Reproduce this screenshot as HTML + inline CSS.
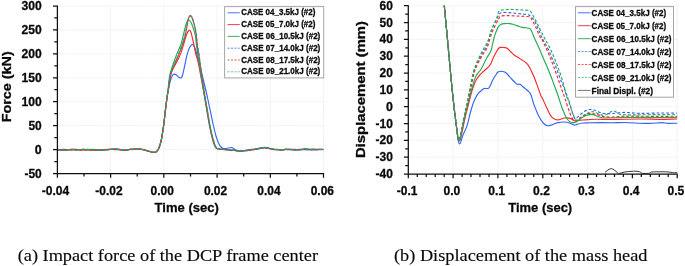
<!DOCTYPE html>
<html><head><meta charset="utf-8"><title>Figure</title>
<style>
html,body{margin:0;padding:0;background:#fff;}
svg{display:block;will-change:transform}
.b{font-family:"Liberation Sans",sans-serif;font-weight:bold;fill:#0a0a0a;stroke:#0a0a0a;stroke-width:0.3px;stroke-linejoin:round}
.s{font-family:"Liberation Serif",serif;fill:#0a0a0a;stroke:#0a0a0a;stroke-width:0.15px}
</style></head><body>
<svg width="685" height="266" viewBox="0 0 685 266">
<rect width="685" height="266" fill="#fff"/>

<path d="M163.8,5.95V173.5 M110.6,5.95V173.5 M217.1,5.95V173.5 M270.3,5.95V173.5 M323.5,5.95V173.5 M57.4,6.0H323.5 M57.4,29.9H323.5 M57.4,53.8H323.5 M57.4,77.8H323.5 M57.4,101.7H323.5 M57.4,125.6H323.5 M57.4,149.6H323.5" stroke="#e7e7e7" stroke-width="0.85" stroke-dasharray="1.3 1.2" fill="none"/>
<g id="left-curves">
<path d="M57.4,149.4 C58.5,149.5 61.7,150.0 64.0,150.1 C66.3,150.2 68.7,149.9 71.0,149.8 C73.3,149.8 75.7,149.7 78.0,149.7 C80.3,149.7 82.7,149.7 85.0,149.7 C87.3,149.7 89.5,149.7 92.0,149.8 C94.5,149.8 97.3,150.2 99.8,150.2 C102.3,150.2 104.6,150.0 107.0,149.8 C109.4,149.5 112.2,148.9 114.4,148.8 C116.6,148.8 118.3,149.0 120.0,149.3 C121.7,149.5 122.9,150.3 124.6,150.3 C126.3,150.3 128.1,149.6 130.0,149.4 C131.9,149.3 134.6,149.4 136.3,149.3 C138.0,149.2 138.8,148.8 140.0,148.9 C141.2,148.9 142.4,149.4 143.6,149.7 C144.8,150.0 145.8,150.3 147.0,150.7 C148.2,151.0 149.4,151.5 150.5,151.8 C151.6,152.1 152.7,152.4 153.6,152.4 C154.5,152.4 155.2,152.5 156.0,152.0 C156.8,151.5 157.5,150.7 158.2,149.5 C158.9,148.3 159.4,146.9 160.0,145.0 C160.6,143.1 161.1,141.3 161.7,138.0 C162.3,134.7 163.1,129.3 163.7,125.0 C164.3,120.7 164.7,116.2 165.2,112.0 C165.7,107.8 166.2,103.7 166.7,100.0 C167.2,96.3 167.7,93.2 168.3,90.0 C168.9,86.8 169.7,83.3 170.3,81.0 C170.9,78.7 171.4,77.3 172.0,76.2 C172.6,75.1 172.9,74.4 173.6,74.2 C174.3,74.0 175.2,74.3 176.0,74.8 C176.8,75.3 177.7,76.5 178.5,77.0 C179.3,77.5 180.3,78.3 181.0,78.0 C181.7,77.7 182.0,77.2 182.6,75.0 C183.2,72.8 184.1,68.5 184.8,65.1 C185.6,61.7 186.3,57.5 187.1,54.6 C187.9,51.7 188.7,49.2 189.6,47.5 C190.5,45.8 191.5,44.3 192.4,44.3 C193.3,44.3 194.1,45.8 194.8,47.5 C195.6,49.2 196.1,51.7 196.9,54.6 C197.7,57.5 198.5,61.2 199.5,65.1 C200.5,69.0 201.5,72.2 202.9,78.0 C204.3,83.8 206.3,92.2 208.0,100.0 C209.7,107.8 212.0,119.0 213.3,125.0 C214.6,131.0 215.1,133.0 216.0,136.0 C216.9,139.0 217.7,141.2 218.5,143.0 C219.3,144.8 220.1,146.1 221.0,147.0 C221.9,147.9 222.7,148.4 223.7,148.6 C224.7,148.8 225.7,148.5 227.0,148.3 C228.3,148.1 230.1,147.4 231.3,147.5 C232.5,147.6 233.2,148.4 234.0,148.8 C234.8,149.2 235.0,149.8 236.0,150.2 C237.0,150.6 238.1,151.2 239.8,151.2 C241.5,151.3 244.0,150.7 246.0,150.5 C248.0,150.2 250.0,150.1 252.0,149.8 C254.0,149.5 256.3,149.2 258.0,148.9 C259.7,148.5 260.8,148.0 262.0,147.7 C263.2,147.5 264.3,147.5 265.5,147.6 C266.7,147.7 267.6,148.0 269.0,148.3 C270.4,148.6 272.5,149.4 274.0,149.5 C275.5,149.7 276.7,149.3 278.0,149.4 C279.3,149.4 280.3,149.8 281.6,149.7 C282.9,149.7 284.6,149.3 286.0,149.3 C287.4,149.3 288.5,149.7 290.0,149.7 C291.5,149.8 293.3,149.9 295.0,149.9 C296.7,149.8 298.3,149.3 300.0,149.2 C301.7,149.2 303.3,149.6 305.0,149.7 C306.7,149.8 308.2,149.7 310.0,149.7 C311.8,149.7 313.8,149.7 316.0,149.6 C318.2,149.6 322.2,149.5 323.5,149.5" fill="none" stroke="#3366F5" stroke-width="1.15" stroke-linejoin="round"/>
<path d="M57.4,150.1 C58.5,150.1 61.7,150.4 64.0,150.2 C66.3,150.1 68.7,149.3 71.0,149.2 C73.3,149.1 75.7,149.4 78.0,149.5 C80.3,149.7 82.7,149.9 85.0,150.0 C87.3,150.1 89.5,150.0 92.0,150.0 C94.5,150.1 97.3,150.4 99.8,150.3 C102.3,150.1 104.6,149.5 107.0,149.3 C109.4,149.2 112.2,149.2 114.4,149.3 C116.6,149.4 118.3,149.7 120.0,149.8 C121.7,149.9 122.9,150.2 124.6,150.1 C126.3,150.0 128.1,149.4 130.0,149.2 C131.9,149.0 134.6,149.0 136.3,149.0 C138.0,149.0 138.8,149.1 140.0,149.2 C141.2,149.3 142.4,149.5 143.6,149.7 C144.8,149.9 145.8,150.3 147.0,150.7 C148.2,151.0 149.4,151.5 150.5,151.8 C151.6,152.1 152.7,152.4 153.6,152.4 C154.5,152.4 155.2,152.5 156.0,152.0 C156.8,151.5 157.5,150.7 158.2,149.5 C158.9,148.3 159.4,146.9 160.0,145.0 C160.6,143.1 161.1,141.3 161.7,138.0 C162.3,134.7 163.1,129.3 163.7,125.0 C164.3,120.7 164.7,116.2 165.2,112.0 C165.7,107.8 166.1,104.0 166.7,100.0 C167.2,96.0 167.9,92.2 168.5,88.0 C169.1,83.8 169.4,78.8 170.5,75.0 C171.6,71.2 173.4,68.5 175.0,65.1 C176.6,61.7 178.8,58.5 180.3,54.6 C181.9,50.8 183.2,45.4 184.3,42.0 C185.4,38.6 185.8,36.4 186.6,34.5 C187.4,32.6 188.3,30.7 189.0,30.4 C189.7,30.1 190.3,30.6 191.0,32.5 C191.7,34.4 192.5,38.5 193.3,42.0 C194.1,45.5 194.9,50.2 195.7,53.5 C196.5,56.8 197.3,58.4 198.1,62.0 C198.9,65.6 199.4,68.7 200.6,75.0 C201.8,81.3 203.8,91.6 205.3,100.0 C206.8,108.4 208.5,119.0 209.7,125.3 C210.9,131.6 211.7,134.8 212.5,138.0 C213.3,141.2 213.9,143.0 214.5,144.6 C215.1,146.2 215.5,146.9 216.0,147.6 C216.5,148.3 216.7,148.4 217.5,148.7 C218.3,149.0 219.6,149.0 221.0,149.2 C222.4,149.3 224.2,149.4 226.0,149.6 C227.8,149.8 230.3,150.0 232.0,150.2 C233.7,150.4 234.7,150.5 236.0,150.6 C237.3,150.8 238.1,151.1 239.8,151.0 C241.5,151.0 244.0,150.5 246.0,150.2 C248.0,149.9 250.0,149.7 252.0,149.4 C254.0,149.2 256.3,149.0 258.0,148.7 C259.7,148.4 260.8,148.0 262.0,147.8 C263.2,147.7 264.3,147.8 265.5,147.8 C266.7,147.9 267.6,148.1 269.0,148.4 C270.4,148.6 272.5,149.1 274.0,149.4 C275.5,149.6 276.7,149.6 278.0,149.7 C279.3,149.9 280.3,150.1 281.6,150.0 C282.9,150.0 284.6,149.4 286.0,149.3 C287.4,149.2 288.5,149.4 290.0,149.5 C291.5,149.5 293.3,149.4 295.0,149.4 C296.7,149.5 298.3,150.0 300.0,149.9 C301.7,149.8 303.3,149.0 305.0,148.9 C306.7,148.9 308.2,149.5 310.0,149.6 C311.8,149.6 313.8,149.2 316.0,149.2 C318.2,149.2 322.2,149.5 323.5,149.5" fill="none" stroke="#F52A2A" stroke-width="1.15" stroke-linejoin="round"/>
<path d="M57.4,149.5 C58.5,149.5 61.7,149.8 64.0,149.8 C66.3,149.8 68.7,149.5 71.0,149.5 C73.3,149.5 75.7,149.9 78.0,150.0 C80.3,150.0 82.7,149.9 85.0,149.8 C87.3,149.7 89.5,149.4 92.0,149.4 C94.5,149.4 97.3,149.6 99.8,149.7 C102.3,149.7 104.6,149.9 107.0,149.8 C109.4,149.7 112.2,149.0 114.4,149.0 C116.6,148.9 118.3,149.2 120.0,149.5 C121.7,149.7 122.9,150.4 124.6,150.4 C126.3,150.4 128.1,149.6 130.0,149.5 C131.9,149.3 134.6,149.4 136.3,149.4 C138.0,149.4 138.8,149.2 140.0,149.3 C141.2,149.3 142.4,149.5 143.6,149.7 C144.8,149.9 145.8,150.3 147.0,150.7 C148.2,151.0 149.4,151.5 150.5,151.8 C151.6,152.1 152.7,152.4 153.6,152.4 C154.5,152.4 155.2,152.5 156.0,152.0 C156.8,151.5 157.5,150.7 158.2,149.5 C158.9,148.3 159.4,146.9 160.0,145.0 C160.6,143.1 161.1,141.3 161.7,138.0 C162.3,134.7 163.1,129.3 163.7,125.0 C164.3,120.7 164.7,116.2 165.2,112.0 C165.7,107.8 166.2,104.0 166.7,100.0 C167.2,96.0 167.7,92.2 168.2,88.0 C168.7,83.8 169.0,78.8 169.8,75.0 C170.6,71.2 171.7,68.5 172.8,65.1 C173.9,61.7 175.2,58.1 176.6,54.6 C178.0,51.1 180.0,47.3 181.1,44.0 C182.2,40.7 182.5,38.2 183.3,35.0 C184.1,31.8 185.2,27.0 186.0,24.5 C186.8,22.0 187.5,20.1 188.3,19.8 C189.1,19.5 190.2,21.2 191.0,22.5 C191.8,23.8 192.3,25.4 193.0,27.5 C193.7,29.6 194.6,32.1 195.2,35.0 C195.8,37.9 196.1,41.7 196.5,45.0 C196.9,48.3 197.1,49.6 197.8,54.6 C198.6,59.6 199.8,67.4 201.0,75.0 C202.2,82.6 203.6,91.6 205.0,100.0 C206.4,108.4 208.2,119.0 209.4,125.3 C210.6,131.6 211.4,134.8 212.2,138.0 C213.0,141.2 213.6,143.0 214.2,144.6 C214.8,146.2 215.2,146.9 215.7,147.6 C216.2,148.3 216.4,148.4 217.2,148.7 C218.0,149.0 219.3,149.0 220.7,149.2 C222.1,149.3 223.8,149.5 225.7,149.6 C227.6,149.7 230.3,149.8 232.0,150.0 C233.7,150.2 234.7,150.5 236.0,150.6 C237.3,150.8 238.1,151.0 239.8,151.0 C241.5,151.1 244.0,151.0 246.0,150.8 C248.0,150.5 250.0,149.9 252.0,149.5 C254.0,149.2 256.3,148.9 258.0,148.6 C259.7,148.3 260.8,147.9 262.0,147.7 C263.2,147.5 264.3,147.3 265.5,147.4 C266.7,147.5 267.6,148.1 269.0,148.4 C270.4,148.7 272.5,148.8 274.0,149.0 C275.5,149.2 276.7,149.6 278.0,149.7 C279.3,149.8 280.3,149.7 281.6,149.7 C282.9,149.6 284.6,149.5 286.0,149.4 C287.4,149.4 288.5,149.4 290.0,149.4 C291.5,149.5 293.3,149.9 295.0,150.0 C296.7,150.0 298.3,149.9 300.0,149.7 C301.7,149.5 303.3,149.0 305.0,148.9 C306.7,148.8 308.2,149.1 310.0,149.1 C311.8,149.2 313.8,149.1 316.0,149.2 C318.2,149.3 322.2,149.6 323.5,149.7" fill="none" stroke="#22AA55" stroke-width="1.15" stroke-linejoin="round"/>
<path d="M57.4,149.5 C58.5,149.5 61.7,149.4 64.0,149.4 C66.3,149.5 68.7,149.5 71.0,149.5 C73.3,149.5 75.7,149.6 78.0,149.6 C80.3,149.6 82.7,149.3 85.0,149.3 C87.3,149.3 89.5,149.5 92.0,149.7 C94.5,149.9 97.3,150.5 99.8,150.5 C102.3,150.5 104.6,149.9 107.0,149.8 C109.4,149.6 112.2,149.5 114.4,149.4 C116.6,149.4 118.3,149.4 120.0,149.4 C121.7,149.5 122.9,150.1 124.6,150.0 C126.3,150.0 128.1,149.5 130.0,149.3 C131.9,149.1 134.6,148.9 136.3,148.8 C138.0,148.7 138.8,148.8 140.0,148.9 C141.2,149.1 142.4,149.4 143.6,149.7 C144.8,150.0 145.8,150.3 147.0,150.7 C148.2,151.0 149.4,151.5 150.5,151.8 C151.6,152.1 152.7,152.4 153.6,152.4 C154.5,152.4 155.2,152.5 156.0,152.0 C156.8,151.5 157.5,150.7 158.2,149.5 C158.9,148.3 159.4,146.9 160.0,145.0 C160.6,143.1 161.1,141.3 161.7,138.0 C162.3,134.7 163.1,129.3 163.7,125.0 C164.3,120.7 164.7,116.2 165.2,112.0 C165.7,107.8 166.1,104.0 166.7,100.0 C167.3,96.0 167.9,92.2 168.6,88.0 C169.2,83.8 169.7,78.8 170.6,75.0 C171.5,71.2 172.8,68.5 174.2,65.1 C175.5,61.7 177.3,58.1 178.7,54.6 C180.1,51.1 181.5,47.3 182.6,44.0 C183.7,40.7 184.5,38.5 185.3,35.0 C186.1,31.5 187.1,25.8 187.6,23.0 C188.1,20.2 188.3,19.3 188.6,18.2 C188.9,17.1 189.2,16.6 189.5,16.2 C189.8,15.8 190.1,15.7 190.4,15.7 C190.7,15.7 191.0,15.8 191.4,16.3 C191.8,16.9 192.1,17.6 192.6,19.0 C193.1,20.4 193.6,22.2 194.2,24.6 C194.8,27.0 195.5,30.2 196.0,33.6 C196.5,37.0 196.7,41.5 197.2,45.0 C197.7,48.5 198.1,49.6 198.8,54.6 C199.5,59.6 200.5,67.4 201.6,75.0 C202.7,82.6 204.0,91.6 205.4,100.0 C206.8,108.4 208.6,119.0 209.8,125.3 C211.0,131.6 211.8,134.8 212.6,138.0 C213.4,141.2 214.0,143.0 214.6,144.6 C215.2,146.2 215.6,146.9 216.1,147.6 C216.6,148.3 216.8,148.4 217.6,148.7 C218.4,149.0 219.7,149.0 221.1,149.2 C222.5,149.3 224.3,149.5 226.1,149.6 C227.9,149.7 230.3,149.7 232.0,149.9 C233.7,150.1 234.7,150.5 236.0,150.7 C237.3,150.9 238.1,151.0 239.8,151.0 C241.5,151.1 244.0,151.1 246.0,150.9 C248.0,150.6 250.0,150.0 252.0,149.6 C254.0,149.2 256.3,148.8 258.0,148.6 C259.7,148.4 260.8,148.3 262.0,148.2 C263.2,148.0 264.3,147.8 265.5,147.7 C266.7,147.7 267.6,147.8 269.0,148.0 C270.4,148.3 272.5,149.2 274.0,149.4 C275.5,149.7 276.7,149.5 278.0,149.6 C279.3,149.7 280.3,150.2 281.6,150.1 C282.9,150.1 284.6,149.4 286.0,149.3 C287.4,149.2 288.5,149.2 290.0,149.3 C291.5,149.4 293.3,150.0 295.0,150.0 C296.7,150.1 298.3,149.6 300.0,149.5 C301.7,149.3 303.3,149.1 305.0,149.1 C306.7,149.1 308.2,149.5 310.0,149.5 C311.8,149.6 313.8,149.7 316.0,149.6 C318.2,149.5 322.2,149.2 323.5,149.1" fill="none" stroke="#3366F5" stroke-width="1.15" stroke-linejoin="round" stroke-dasharray="2.9 2"/>
<path d="M57.4,149.8 C58.5,149.8 61.7,150.0 64.0,150.0 C66.3,150.0 68.7,149.8 71.0,149.9 C73.3,149.9 75.7,150.3 78.0,150.3 C80.3,150.3 82.7,149.9 85.0,149.9 C87.3,149.9 89.5,150.2 92.0,150.2 C94.5,150.1 97.3,149.8 99.8,149.7 C102.3,149.6 104.6,149.5 107.0,149.5 C109.4,149.5 112.2,149.5 114.4,149.6 C116.6,149.7 118.3,149.7 120.0,149.8 C121.7,150.0 122.9,150.5 124.6,150.4 C126.3,150.2 128.1,149.4 130.0,149.2 C131.9,148.9 134.6,149.1 136.3,149.1 C138.0,149.1 138.8,149.0 140.0,149.1 C141.2,149.2 142.4,149.4 143.6,149.7 C144.8,150.0 145.8,150.3 147.0,150.7 C148.2,151.0 149.4,151.5 150.5,151.8 C151.6,152.1 152.7,152.4 153.6,152.4 C154.5,152.4 155.2,152.5 156.0,152.0 C156.8,151.5 157.5,150.7 158.2,149.5 C158.9,148.3 159.4,146.9 160.0,145.0 C160.6,143.1 161.1,141.3 161.7,138.0 C162.3,134.7 163.1,129.3 163.7,125.0 C164.3,120.7 164.7,116.2 165.2,112.0 C165.7,107.8 166.1,104.0 166.7,100.0 C167.3,96.0 167.9,92.2 168.6,88.0 C169.2,83.8 169.7,78.8 170.6,75.0 C171.5,71.2 172.8,68.5 174.2,65.1 C175.5,61.7 177.3,58.1 178.7,54.6 C180.1,51.1 181.5,47.3 182.6,44.0 C183.7,40.7 184.5,38.5 185.3,35.0 C186.1,31.5 187.1,25.8 187.6,23.0 C188.1,20.2 188.3,19.3 188.6,18.2 C188.9,17.1 189.2,16.6 189.5,16.2 C189.8,15.8 190.1,15.7 190.4,15.7 C190.7,15.7 191.0,15.8 191.4,16.3 C191.8,16.9 192.1,17.6 192.6,19.0 C193.1,20.4 193.6,22.2 194.2,24.6 C194.8,27.0 195.5,30.2 196.0,33.6 C196.5,37.0 196.7,41.5 197.2,45.0 C197.7,48.5 198.1,49.6 198.8,54.6 C199.5,59.6 200.5,67.4 201.6,75.0 C202.7,82.6 204.0,91.6 205.4,100.0 C206.8,108.4 208.6,119.0 209.8,125.3 C211.0,131.6 211.8,134.8 212.6,138.0 C213.4,141.2 214.0,143.0 214.6,144.6 C215.2,146.2 215.6,146.9 216.1,147.6 C216.6,148.3 216.8,148.4 217.6,148.7 C218.4,149.0 219.7,149.0 221.1,149.2 C222.5,149.3 224.3,149.4 226.1,149.6 C227.9,149.8 230.3,150.5 232.0,150.6 C233.7,150.7 234.7,150.0 236.0,150.1 C237.3,150.2 238.1,151.1 239.8,151.1 C241.5,151.1 244.0,150.4 246.0,150.2 C248.0,150.1 250.0,150.5 252.0,150.2 C254.0,149.9 256.3,148.7 258.0,148.4 C259.7,148.1 260.8,148.4 262.0,148.3 C263.2,148.2 264.3,147.7 265.5,147.7 C266.7,147.8 267.6,148.2 269.0,148.5 C270.4,148.8 272.5,149.5 274.0,149.7 C275.5,149.9 276.7,149.5 278.0,149.5 C279.3,149.5 280.3,149.7 281.6,149.8 C282.9,149.8 284.6,149.8 286.0,149.8 C287.4,149.7 288.5,149.4 290.0,149.3 C291.5,149.3 293.3,149.5 295.0,149.5 C296.7,149.5 298.3,149.4 300.0,149.4 C301.7,149.4 303.3,149.6 305.0,149.6 C306.7,149.6 308.2,149.6 310.0,149.6 C311.8,149.6 313.8,149.8 316.0,149.7 C318.2,149.7 322.2,149.3 323.5,149.2" fill="none" stroke="#F52A2A" stroke-width="1.15" stroke-linejoin="round" stroke-dasharray="2.9 2" stroke-dashoffset="2.4"/>
<path d="M57.4,150.0 C58.5,150.0 61.7,150.2 64.0,150.1 C66.3,150.0 68.7,149.7 71.0,149.6 C73.3,149.5 75.7,149.7 78.0,149.7 C80.3,149.6 82.7,149.2 85.0,149.3 C87.3,149.3 89.5,149.8 92.0,149.9 C94.5,150.1 97.3,150.1 99.8,150.1 C102.3,150.0 104.6,149.9 107.0,149.7 C109.4,149.6 112.2,149.1 114.4,149.1 C116.6,149.1 118.3,149.8 120.0,149.9 C121.7,150.1 122.9,149.8 124.6,149.8 C126.3,149.8 128.1,149.9 130.0,149.8 C131.9,149.7 134.6,149.4 136.3,149.3 C138.0,149.2 138.8,149.2 140.0,149.2 C141.2,149.3 142.4,149.5 143.6,149.7 C144.8,149.9 145.8,150.3 147.0,150.7 C148.2,151.0 149.4,151.5 150.5,151.8 C151.6,152.1 152.7,152.4 153.6,152.4 C154.5,152.4 155.2,152.5 156.0,152.0 C156.8,151.5 157.5,150.7 158.2,149.5 C158.9,148.3 159.4,146.9 160.0,145.0 C160.6,143.1 161.1,141.3 161.7,138.0 C162.3,134.7 163.1,129.3 163.7,125.0 C164.3,120.7 164.7,116.2 165.2,112.0 C165.7,107.8 166.1,104.0 166.7,100.0 C167.2,96.0 167.9,92.2 168.5,88.0 C169.1,83.8 169.5,78.8 170.4,75.0 C171.3,71.2 172.6,68.5 173.9,65.1 C175.2,61.7 177.0,58.1 178.4,54.6 C179.8,51.1 181.2,47.3 182.3,44.0 C183.4,40.7 184.2,38.4 185.0,35.0 C185.8,31.6 186.7,26.2 187.3,23.5 C187.9,20.8 188.1,19.8 188.4,18.6 C188.8,17.5 189.1,17.0 189.4,16.6 C189.7,16.2 190.0,16.1 190.3,16.1 C190.6,16.1 191.0,16.1 191.4,16.7 C191.8,17.3 192.3,18.1 192.8,19.5 C193.3,20.9 193.9,22.6 194.5,25.0 C195.1,27.4 195.8,30.3 196.3,33.6 C196.8,36.9 197.0,41.5 197.5,45.0 C198.0,48.5 198.4,49.6 199.1,54.6 C199.8,59.6 200.8,67.4 201.9,75.0 C203.0,82.6 204.3,91.6 205.7,100.0 C207.1,108.4 208.9,119.0 210.1,125.3 C211.3,131.6 212.1,134.8 212.9,138.0 C213.7,141.2 214.3,143.0 214.9,144.6 C215.5,146.2 215.9,146.9 216.4,147.6 C216.9,148.3 217.1,148.4 217.9,148.7 C218.7,149.0 220.0,149.0 221.4,149.2 C222.8,149.3 224.6,149.5 226.4,149.6 C228.2,149.7 230.4,149.9 232.0,150.1 C233.6,150.2 234.7,150.4 236.0,150.5 C237.3,150.6 238.1,150.8 239.8,150.8 C241.5,150.8 244.0,150.6 246.0,150.5 C248.0,150.3 250.0,150.0 252.0,149.7 C254.0,149.5 256.3,149.2 258.0,148.9 C259.7,148.6 260.8,148.0 262.0,147.8 C263.2,147.6 264.3,147.7 265.5,147.7 C266.7,147.7 267.6,147.6 269.0,147.8 C270.4,148.0 272.5,148.8 274.0,149.1 C275.5,149.4 276.7,149.5 278.0,149.6 C279.3,149.6 280.3,149.6 281.6,149.6 C282.9,149.7 284.6,149.8 286.0,149.8 C287.4,149.8 288.5,149.3 290.0,149.3 C291.5,149.4 293.3,149.8 295.0,149.9 C296.7,150.0 298.3,150.1 300.0,150.0 C301.7,149.8 303.3,149.2 305.0,149.1 C306.7,149.0 308.2,149.5 310.0,149.6 C311.8,149.7 313.8,149.8 316.0,149.7 C318.2,149.7 322.2,149.6 323.5,149.5" fill="none" stroke="#22AA55" stroke-width="1.15" stroke-linejoin="round" stroke-dasharray="2.9 2"/>
</g>
<path d="M57.4,5.45V173.5H324.1 M57.4,173.5v4.3 M110.6,173.5v4.3 M163.8,173.5v4.3 M217.1,173.5v4.3 M270.3,173.5v4.3 M323.5,173.5v4.3 M84.0,173.5v3.1 M137.2,173.5v3.1 M190.5,173.5v3.1 M243.7,173.5v3.1 M296.9,173.5v3.1 M57.4,6.0h-4.4 M57.4,29.9h-4.4 M57.4,53.8h-4.4 M57.4,77.8h-4.4 M57.4,101.7h-4.4 M57.4,125.6h-4.4 M57.4,149.6h-4.4 M57.4,173.5h-4.4 M57.4,17.9h-3.1 M57.4,41.9h-3.1 M57.4,65.8h-3.1 M57.4,89.7h-3.1 M57.4,113.7h-3.1 M57.4,137.6h-3.1 M57.4,161.5h-3.1" stroke="#111" stroke-width="1.25" fill="none"/>
<text class="b" x="21.5" y="9.9" font-size="12.7" textLength="20.2" lengthAdjust="spacingAndGlyphs">300</text>
<text class="b" x="21.5" y="33.9" font-size="12.7" textLength="20.2" lengthAdjust="spacingAndGlyphs">250</text>
<text class="b" x="21.5" y="57.8" font-size="12.7" textLength="20.2" lengthAdjust="spacingAndGlyphs">200</text>
<text class="b" x="21.5" y="81.8" font-size="12.7" textLength="20.2" lengthAdjust="spacingAndGlyphs">150</text>
<text class="b" x="21.5" y="105.7" font-size="12.7" textLength="20.2" lengthAdjust="spacingAndGlyphs">100</text>
<text class="b" x="28.4" y="129.6" font-size="12.7" textLength="13.3" lengthAdjust="spacingAndGlyphs">50</text>
<text class="b" x="34.8" y="153.6" font-size="12.7" textLength="6.9" lengthAdjust="spacingAndGlyphs">0</text>
<text class="b" x="24.4" y="177.5" font-size="12.7" textLength="17.3" lengthAdjust="spacingAndGlyphs">-50</text>
<text class="b" x="41.8" y="194.9" font-size="12.7" textLength="27.4" lengthAdjust="spacingAndGlyphs">-0.04</text>
<text class="b" x="95.2" y="194.9" font-size="12.7" textLength="27.4" lengthAdjust="spacingAndGlyphs">-0.02</text>
<text class="b" x="150.6" y="194.9" font-size="12.7" textLength="23.3" lengthAdjust="spacingAndGlyphs">0.00</text>
<text class="b" x="203.9" y="194.9" font-size="12.7" textLength="23.3" lengthAdjust="spacingAndGlyphs">0.02</text>
<text class="b" x="257.3" y="194.9" font-size="12.7" textLength="23.3" lengthAdjust="spacingAndGlyphs">0.04</text>
<text class="b" x="310.7" y="194.9" font-size="12.7" textLength="23.3" lengthAdjust="spacingAndGlyphs">0.06</text>
<text class="b" x="154.6" y="211.6" font-size="13.6" textLength="64.2" lengthAdjust="spacingAndGlyphs">Time (sec)</text>
<text class="b" transform="translate(11.4,122.3) rotate(-90)" font-size="13.5" textLength="71" lengthAdjust="spacingAndGlyphs">Force (kN)</text>
<rect x="224.6" y="6.6" width="99.1" height="71.30000000000001" fill="#fff" stroke="#a6a6a6" stroke-width="1"/>
<path d="M227.5,12.8H239.8" stroke="#3366F5" stroke-width="1.0" stroke-opacity="0.9"/>
<text class="b" x="241.2" y="15.3" font-size="8.6" textLength="74.2" lengthAdjust="spacingAndGlyphs">CASE 04_3.5kJ (#2)</text>
<path d="M227.5,24.6H239.8" stroke="#F52A2A" stroke-width="1.0" stroke-opacity="0.9"/>
<text class="b" x="241.2" y="27.1" font-size="8.6" textLength="74.2" lengthAdjust="spacingAndGlyphs">CASE 05_7.0kJ (#2)</text>
<path d="M227.5,36.4H239.8" stroke="#22AA55" stroke-width="1.0" stroke-opacity="0.9"/>
<text class="b" x="241.2" y="38.9" font-size="8.6" textLength="79.1" lengthAdjust="spacingAndGlyphs">CASE 06_10.5kJ (#2)</text>
<path d="M227.5,48.2H239.8" stroke="#3366F5" stroke-width="1.0" stroke-dasharray="2.1 1.4" stroke-opacity="0.8"/>
<text class="b" x="241.2" y="50.7" font-size="8.6" textLength="79.1" lengthAdjust="spacingAndGlyphs">CASE 07_14.0kJ (#2)</text>
<path d="M227.5,60.0H239.8" stroke="#F52A2A" stroke-width="1.0" stroke-dasharray="2.1 1.4" stroke-opacity="0.8"/>
<text class="b" x="241.2" y="62.5" font-size="8.6" textLength="79.1" lengthAdjust="spacingAndGlyphs">CASE 08_17.5kJ (#2)</text>
<path d="M227.5,71.8H239.8" stroke="#35c070" stroke-width="1.0" stroke-dasharray="2.1 1.4" stroke-opacity="0.8"/>
<text class="b" x="241.2" y="74.3" font-size="8.6" textLength="79.1" lengthAdjust="spacingAndGlyphs">CASE 09_21.0kJ (#2)</text>
<path d="M453.1,5.7V174.0 M497.9,5.7V174.0 M542.8,5.7V174.0 M587.6,5.7V174.0 M632.4,5.7V174.0 M677.2,5.7V174.0 M408.3,5.7H677.2 M408.3,22.5H677.2 M408.3,39.4H677.2 M408.3,56.2H677.2 M408.3,73.0H677.2 M408.3,89.9H677.2 M408.3,106.7H677.2 M408.3,123.5H677.2 M408.3,140.3H677.2 M408.3,157.2H677.2" stroke="#e7e7e7" stroke-width="0.85" stroke-dasharray="1.3 1.2" fill="none"/>
<g id="right-curves">
<path d="M444.3,5.5 C445.1,13.9 447.7,41.9 449.0,56.0 C450.3,70.1 451.2,80.2 452.2,90.0 C453.2,99.8 454.2,108.2 455.0,115.0 C455.8,121.8 456.5,127.0 457.0,131.0 C457.5,135.0 457.7,137.0 458.0,139.0 C458.3,141.0 458.5,142.0 458.8,142.8 C459.1,143.6 459.3,143.9 459.6,143.9 C459.9,143.9 460.0,144.1 460.6,142.6 C461.2,141.1 461.9,137.8 463.0,135.0 C464.1,132.2 465.8,129.4 467.0,125.9 C468.2,122.4 469.0,117.8 470.0,114.0 C471.0,110.2 472.2,106.0 473.2,103.2 C474.2,100.4 475.1,98.7 476.0,97.0 C476.9,95.3 477.6,94.3 478.5,93.2 C479.4,92.1 480.6,91.3 481.5,90.5 C482.4,89.7 483.1,88.9 484.2,88.5 C485.3,88.1 487.3,88.9 488.4,88.3 C489.4,87.7 489.8,86.4 490.5,85.0 C491.2,83.6 491.9,81.6 492.7,80.0 C493.5,78.4 494.6,76.8 495.5,75.5 C496.4,74.2 497.1,72.7 498.0,72.0 C498.9,71.3 500.0,71.2 501.0,71.2 C502.0,71.2 503.1,71.5 504.0,71.8 C504.9,72.1 505.6,72.6 506.4,73.3 C507.2,74.0 508.1,75.0 509.0,76.0 C509.9,77.0 510.7,78.0 511.6,79.0 C512.5,80.0 513.6,81.1 514.5,82.0 C515.4,82.9 516.1,83.8 517.0,84.2 C517.9,84.6 519.0,83.9 520.0,84.3 C521.0,84.7 521.8,85.8 522.7,86.5 C523.6,87.2 524.5,88.0 525.4,88.8 C526.3,89.5 527.1,90.1 528.0,91.0 C528.9,91.9 529.6,91.8 530.6,94.0 C531.6,96.2 532.8,101.2 533.7,104.0 C534.7,106.8 535.4,108.4 536.3,110.5 C537.2,112.6 537.9,114.5 539.0,116.6 C540.1,118.7 541.8,121.5 543.2,123.0 C544.6,124.5 546.0,125.4 547.4,125.7 C548.8,126.0 550.3,125.4 551.6,125.0 C552.9,124.6 553.9,123.9 555.0,123.5 C556.1,123.1 556.5,122.8 558.0,122.6 C559.5,122.3 562.4,121.9 564.3,122.0 C566.2,122.1 568.0,122.5 569.6,123.0 C571.2,123.5 572.6,124.7 573.8,125.0 C574.9,125.3 575.8,124.8 576.5,124.6 C577.2,124.4 576.9,124.3 578.0,124.0 C579.1,123.7 581.3,123.2 583.3,123.0 C585.3,122.8 587.2,122.9 590.0,122.8 C592.8,122.7 596.3,122.6 600.0,122.6 C603.7,122.6 607.8,122.7 612.0,122.7 C616.2,122.7 620.3,122.4 625.0,122.5 C629.7,122.6 635.8,123.0 640.0,123.2 C644.2,123.4 646.3,123.5 650.0,123.4 C653.7,123.3 659.0,122.6 662.0,122.6 C665.0,122.6 665.5,123.3 668.0,123.4 C670.5,123.5 675.7,123.2 677.2,123.2" fill="none" stroke="#3366F5" stroke-width="1.15" stroke-linejoin="round"/>
<path d="M444.3,5.5 C445.1,13.9 447.7,41.9 449.0,56.0 C450.3,70.1 451.2,80.2 452.2,90.0 C453.2,99.8 454.2,108.2 455.0,115.0 C455.8,121.8 456.5,127.3 457.0,131.0 C457.5,134.7 457.6,135.5 457.9,137.0 C458.2,138.5 458.4,139.4 458.6,140.0 C458.8,140.6 459.0,141.0 459.3,140.8 C459.6,140.6 459.8,140.8 460.3,139.0 C460.8,137.2 461.7,133.5 462.5,130.0 C463.3,126.5 464.1,122.0 465.0,118.0 C465.9,114.0 467.2,109.3 468.0,106.0 C468.8,102.7 469.3,100.7 470.0,98.0 C470.7,95.3 471.5,92.3 472.2,90.0 C472.9,87.7 473.6,85.8 474.3,84.0 C475.0,82.2 475.6,80.8 476.4,79.5 C477.2,78.2 478.1,77.0 479.0,76.0 C479.9,75.0 480.8,74.1 481.7,73.2 C482.6,72.3 483.6,71.3 484.5,70.5 C485.4,69.7 486.2,69.0 487.0,68.3 C487.8,67.5 488.5,66.9 489.2,66.0 C489.9,65.1 490.4,64.5 491.2,63.0 C491.9,61.5 492.8,58.7 493.7,56.9 C494.6,55.1 495.4,53.5 496.3,52.0 C497.2,50.5 498.2,48.8 499.0,48.0 C499.8,47.2 500.2,47.5 501.0,47.4 C501.8,47.3 502.9,47.3 504.0,47.5 C505.1,47.7 506.3,47.7 507.4,48.4 C508.5,49.1 509.4,50.4 510.5,51.5 C511.6,52.6 512.8,53.9 513.8,54.8 C514.8,55.6 515.6,56.1 516.5,56.6 C517.4,57.1 518.1,57.4 519.0,58.0 C519.9,58.6 520.9,59.3 522.0,60.0 C523.1,60.7 524.5,61.5 525.4,62.2 C526.3,62.9 526.9,63.4 527.6,64.3 C528.3,65.2 528.9,66.1 529.6,67.4 C530.3,68.7 531.0,70.2 531.8,72.0 C532.6,73.8 533.5,75.4 534.5,78.0 C535.5,80.6 536.9,84.5 538.0,87.5 C539.1,90.5 540.2,94.2 541.0,96.0 C541.8,97.8 541.6,96.7 542.5,98.5 C543.4,100.3 545.0,104.2 546.4,107.0 C547.8,109.8 549.2,113.6 550.6,115.6 C552.0,117.6 553.4,118.5 554.8,119.2 C556.2,119.9 557.4,120.0 559.0,119.8 C560.6,119.6 562.4,118.2 564.3,118.0 C566.2,117.8 569.0,118.1 570.6,118.6 C572.2,119.1 573.3,120.4 574.2,120.8 C575.1,121.2 574.6,120.9 576.0,120.8 C577.4,120.7 579.5,120.2 582.7,120.0 C585.9,119.8 590.4,119.4 595.3,119.3 C600.2,119.2 604.8,119.5 612.2,119.4 C619.7,119.4 632.0,119.0 640.0,119.0 C648.0,119.0 653.8,119.3 660.0,119.3 C666.2,119.3 674.3,119.0 677.2,119.0" fill="none" stroke="#F52A2A" stroke-width="1.15" stroke-linejoin="round"/>
<path d="M444.3,5.5 C445.1,13.9 447.7,41.9 449.0,56.0 C450.3,70.1 451.2,80.2 452.2,90.0 C453.2,99.8 454.2,108.2 455.0,115.0 C455.8,121.8 456.5,127.3 457.0,131.0 C457.5,134.7 457.6,135.5 457.9,137.0 C458.1,138.5 458.3,139.3 458.5,139.9 C458.7,140.5 458.9,140.8 459.2,140.6 C459.5,140.4 459.7,140.4 460.2,138.5 C460.7,136.6 461.5,132.6 462.3,129.0 C463.1,125.4 463.9,121.0 464.8,117.0 C465.7,113.0 466.6,108.6 467.5,105.0 C468.4,101.4 469.1,98.6 470.0,95.4 C470.9,92.2 471.7,89.0 472.6,86.0 C473.5,83.0 474.5,79.6 475.4,77.4 C476.3,75.2 477.1,74.2 478.0,73.0 C478.9,71.8 479.8,71.2 480.6,70.0 C481.4,68.8 482.1,67.4 482.8,66.0 C483.5,64.6 484.2,63.0 484.9,61.6 C485.6,60.2 486.3,58.7 487.0,57.5 C487.7,56.3 488.3,55.5 489.0,54.2 C489.7,53.0 490.4,52.5 491.2,50.0 C492.0,47.5 492.9,42.0 493.7,39.0 C494.5,36.0 495.3,33.9 496.0,32.0 C496.7,30.1 497.2,28.7 498.0,27.4 C498.8,26.1 499.8,24.9 501.0,24.3 C502.2,23.7 503.6,23.7 505.0,23.6 C506.4,23.5 508.2,23.5 509.5,23.6 C510.8,23.7 511.9,24.0 513.0,24.3 C514.1,24.6 514.9,24.9 515.9,25.3 C516.9,25.7 518.0,26.1 519.0,26.5 C520.0,26.9 521.0,27.2 522.2,27.4 C523.4,27.6 524.8,27.6 526.0,27.8 C527.2,28.0 528.7,28.1 529.6,28.5 C530.5,28.9 530.8,29.6 531.3,30.5 C531.8,31.4 532.0,32.2 532.7,33.8 C533.4,35.4 534.4,38.0 535.3,40.0 C536.2,42.0 537.0,43.7 538.0,45.8 C539.0,47.9 539.6,49.5 541.0,52.7 C542.4,56.0 544.6,61.1 546.4,65.3 C548.2,69.5 550.3,74.7 551.6,78.0 C552.9,81.3 553.1,82.1 554.2,85.0 C555.3,87.9 556.7,91.6 558.0,95.5 C559.3,99.4 560.8,104.5 562.2,108.2 C563.6,111.9 565.2,115.5 566.4,117.7 C567.6,119.9 568.5,120.8 569.6,121.6 C570.7,122.4 571.9,122.5 573.0,122.6 C574.1,122.6 575.2,122.5 576.4,121.9 C577.6,121.3 578.7,120.1 580.0,119.2 C581.3,118.3 582.7,117.3 584.0,116.6 C585.3,115.9 586.8,115.3 588.0,114.9 C589.2,114.5 590.0,114.3 591.0,114.3 C592.0,114.3 592.8,114.5 594.0,114.9 C595.2,115.3 596.7,116.1 598.0,116.6 C599.3,117.1 600.0,117.5 602.0,117.7 C604.0,117.9 606.2,117.8 610.0,117.7 C613.8,117.7 620.0,117.5 625.0,117.4 C630.0,117.3 634.2,117.3 640.0,117.3 C645.8,117.3 653.8,117.5 660.0,117.5 C666.2,117.5 674.3,117.3 677.2,117.3" fill="none" stroke="#22AA55" stroke-width="1.15" stroke-linejoin="round"/>
<path d="M444.3,5.5 C445.1,13.9 447.7,41.9 449.0,56.0 C450.3,70.1 451.2,80.2 452.2,90.0 C453.2,99.8 454.2,108.2 455.0,115.0 C455.8,121.8 456.5,127.3 457.0,131.0 C457.5,134.7 457.7,135.6 457.9,137.0 C458.1,138.4 458.2,139.1 458.4,139.7 C458.6,140.3 458.8,140.7 459.1,140.4 C459.4,140.1 459.5,140.1 460.0,138.0 C460.5,135.9 461.3,131.7 462.0,128.0 C462.7,124.3 463.4,120.4 464.3,116.0 C465.2,111.6 466.6,106.5 467.6,101.7 C468.6,96.9 469.5,91.9 470.5,87.0 C471.5,82.1 472.6,76.0 473.7,72.2 C474.8,68.4 475.8,66.5 476.8,64.0 C477.9,61.5 479.0,59.4 480.0,57.4 C481.0,55.4 482.1,53.6 483.0,52.0 C483.9,50.4 484.7,49.8 485.6,48.0 C486.5,46.2 487.2,44.1 488.2,41.0 C489.2,37.9 490.6,32.8 491.8,29.5 C493.0,26.2 494.5,23.3 495.6,21.0 C496.7,18.7 497.6,16.9 498.5,15.5 C499.4,14.1 499.4,13.2 501.0,12.7 C502.6,12.2 505.7,12.5 508.0,12.6 C510.3,12.7 512.7,13.0 515.0,13.2 C517.3,13.4 519.8,13.7 522.0,14.0 C524.2,14.3 527.0,14.3 528.5,14.8 C530.0,15.3 529.9,16.1 530.8,17.0 C531.7,17.9 533.0,18.3 534.1,20.0 C535.2,21.7 536.4,24.7 537.4,27.0 C538.4,29.3 539.5,32.0 540.4,34.0 C541.3,36.0 541.8,37.3 542.6,39.0 C543.4,40.7 544.4,42.1 545.4,44.0 C546.4,45.9 547.7,48.1 548.9,50.6 C550.1,53.1 551.2,56.3 552.4,59.0 C553.6,61.7 554.8,64.3 555.9,67.0 C557.0,69.7 557.9,72.3 558.9,75.0 C559.9,77.7 561.0,80.8 561.9,83.0 C562.8,85.2 563.4,86.2 564.2,88.0 C564.9,89.8 565.6,91.7 566.4,94.0 C567.2,96.3 567.8,98.5 568.9,101.9 C570.0,105.3 572.1,111.7 573.1,114.5 C574.1,117.3 574.3,118.2 574.9,118.8 C575.5,119.4 575.6,118.9 576.5,118.2 C577.4,117.5 579.3,115.5 580.5,114.5 C581.7,113.5 582.4,112.7 583.5,112.0 C584.6,111.3 585.6,110.8 586.9,110.3 C588.1,109.8 589.8,109.3 591.0,109.3 C592.2,109.2 592.9,109.7 594.0,110.0 C595.1,110.3 595.8,110.8 597.4,111.4 C599.0,112.0 601.3,113.2 603.8,113.5 C606.3,113.8 608.7,113.7 612.2,113.5 C615.7,113.3 620.2,112.4 624.8,112.4 C629.4,112.4 634.1,113.3 640.0,113.4 C645.9,113.5 653.8,113.0 660.0,113.0 C666.2,113.0 674.3,113.2 677.2,113.2" fill="none" stroke="#3366F5" stroke-width="1.15" stroke-linejoin="round" stroke-dasharray="2.9 2"/>
<path d="M444.3,5.5 C445.1,13.9 447.7,41.9 449.0,56.0 C450.3,70.1 451.2,80.2 452.2,90.0 C453.2,99.8 454.2,108.2 455.0,115.0 C455.8,121.8 456.5,127.3 457.0,131.0 C457.5,134.7 457.7,135.6 457.9,137.0 C458.1,138.4 458.2,139.1 458.4,139.7 C458.6,140.3 458.8,140.7 459.1,140.4 C459.4,140.1 459.5,140.1 460.0,138.0 C460.5,135.9 461.2,131.7 462.0,128.0 C462.8,124.3 463.5,120.4 464.5,116.0 C465.5,111.6 466.9,106.5 468.0,101.7 C469.1,96.9 469.9,91.9 471.0,87.0 C472.1,82.1 473.2,76.0 474.3,72.2 C475.4,68.5 476.3,66.8 477.4,64.5 C478.4,62.2 479.6,60.2 480.6,58.4 C481.6,56.6 482.6,54.9 483.5,53.5 C484.4,52.1 485.2,51.6 486.0,50.0 C486.8,48.4 487.4,46.9 488.4,44.0 C489.4,41.1 490.8,35.8 492.0,32.5 C493.2,29.2 494.7,26.8 495.8,24.5 C496.9,22.2 497.6,20.4 498.5,19.0 C499.4,17.6 499.4,16.6 501.0,16.0 C502.6,15.4 505.7,15.6 508.0,15.6 C510.3,15.6 512.7,15.8 515.0,15.9 C517.3,16.0 519.6,16.1 522.0,16.3 C524.4,16.5 528.0,16.4 529.6,16.9 C531.2,17.4 531.1,18.4 531.8,19.5 C532.5,20.6 532.9,21.4 533.8,23.2 C534.7,24.9 536.0,27.7 537.0,30.0 C538.0,32.3 539.1,35.3 540.0,37.0 C540.9,38.7 541.3,38.3 542.2,40.0 C543.1,41.7 544.3,44.4 545.5,47.0 C546.7,49.6 548.3,53.0 549.5,55.8 C550.7,58.6 551.6,61.2 552.7,64.0 C553.8,66.8 554.9,69.8 555.9,72.7 C556.9,75.6 558.0,78.5 559.0,81.5 C560.0,84.5 561.1,87.5 562.2,90.6 C563.3,93.6 564.2,96.2 565.4,99.8 C566.6,103.4 568.4,109.2 569.6,112.4 C570.8,115.6 571.8,117.4 572.7,118.8 C573.7,120.2 574.5,120.7 575.3,120.9 C576.0,121.1 576.2,120.7 577.2,120.0 C578.2,119.3 580.3,117.5 581.6,116.6 C582.9,115.7 583.8,115.1 585.0,114.6 C586.2,114.1 587.8,113.7 589.0,113.5 C590.2,113.3 591.0,113.4 592.0,113.5 C593.0,113.6 594.0,113.7 595.3,114.0 C596.6,114.3 598.6,115.0 600.0,115.4 C601.4,115.8 601.8,116.3 603.8,116.6 C605.8,116.9 608.7,117.1 612.2,117.0 C615.7,116.9 620.2,116.3 624.8,116.2 C629.4,116.1 634.1,116.2 640.0,116.2 C645.9,116.2 653.8,116.4 660.0,116.4 C666.2,116.4 674.3,116.2 677.2,116.2" fill="none" stroke="#F52A2A" stroke-width="1.15" stroke-linejoin="round" stroke-dasharray="2.9 2"/>
<path d="M444.3,5.5 C445.1,13.9 447.7,41.9 449.0,56.0 C450.3,70.1 451.2,80.2 452.2,90.0 C453.2,99.8 454.2,108.2 455.0,115.0 C455.8,121.8 456.5,127.3 457.0,131.0 C457.5,134.7 457.7,135.6 457.9,137.0 C458.1,138.4 458.2,139.1 458.4,139.7 C458.6,140.3 458.8,140.7 459.1,140.4 C459.4,140.1 459.5,140.1 460.0,138.0 C460.5,135.9 461.3,131.7 462.0,128.0 C462.7,124.3 463.3,120.4 464.2,116.0 C465.1,111.6 466.4,106.5 467.4,101.7 C468.4,96.9 469.2,91.9 470.2,87.0 C471.2,82.1 472.4,76.1 473.4,72.2 C474.4,68.3 475.4,66.1 476.4,63.5 C477.4,60.9 478.6,58.6 479.6,56.4 C480.6,54.2 481.7,52.2 482.6,50.5 C483.5,48.8 484.2,47.8 485.2,46.0 C486.2,44.2 487.3,42.8 488.4,40.0 C489.5,37.2 490.6,32.2 491.8,29.0 C493.0,25.8 494.8,23.5 495.8,21.0 C496.8,18.5 497.3,15.8 498.0,14.0 C498.7,12.2 498.5,11.2 500.0,10.5 C501.5,9.8 504.5,9.7 507.0,9.5 C509.5,9.3 512.5,9.5 515.0,9.6 C517.5,9.7 519.6,9.8 522.0,10.0 C524.4,10.2 528.0,9.9 529.6,10.5 C531.2,11.1 531.1,12.4 531.8,13.5 C532.5,14.6 532.8,15.1 533.8,16.9 C534.8,18.6 536.3,21.6 537.5,24.0 C538.7,26.4 540.0,29.1 541.2,31.6 C542.5,34.1 543.6,36.4 545.0,39.0 C546.4,41.6 548.1,44.5 549.6,47.5 C551.1,50.5 552.5,53.8 553.8,56.9 C555.1,60.0 556.3,62.8 557.5,66.0 C558.7,69.2 559.9,72.6 561.0,75.9 C562.1,79.2 563.1,82.7 564.0,86.0 C564.9,89.3 565.6,93.5 566.4,96.0 C567.2,98.5 568.0,97.9 569.0,100.8 C570.0,103.7 571.5,110.2 572.7,113.5 C574.0,116.8 575.5,119.3 576.5,120.4 C577.5,121.5 577.4,120.6 578.4,120.0 C579.4,119.4 581.3,117.7 582.7,116.6 C584.1,115.5 585.5,114.3 587.0,113.5 C588.5,112.7 590.5,111.8 592.0,111.7 C593.5,111.6 594.7,112.3 596.0,112.8 C597.3,113.3 598.7,114.1 600.0,114.5 C601.3,114.9 602.6,115.3 603.8,115.3 C605.0,115.2 605.9,114.8 607.0,114.2 C608.1,113.7 609.4,112.5 610.5,112.0 C611.6,111.5 612.7,111.0 613.8,111.1 C614.9,111.2 615.9,111.9 617.0,112.4 C618.1,113.0 618.2,114.0 620.2,114.4 C622.2,114.8 625.7,114.7 629.0,114.8 C632.3,114.9 634.8,114.8 640.0,114.8 C645.2,114.8 653.8,114.6 660.0,114.6 C666.2,114.6 674.3,114.8 677.2,114.8" fill="none" stroke="#22AA55" stroke-width="1.15" stroke-linejoin="round" stroke-dasharray="2.9 2"/>
<path d="M605.0,172.4 C605.4,172.1 606.6,170.9 607.5,170.3 C608.4,169.7 609.6,168.9 610.5,168.7 C611.4,168.5 612.3,168.9 613.0,169.2 C613.7,169.5 614.2,170.0 614.9,170.5 C615.6,171.0 616.4,171.8 617.0,172.3 C617.6,172.8 617.9,173.3 618.6,173.4 C619.3,173.5 620.3,173.2 621.0,173.0 C621.7,172.8 622.2,172.6 623.0,172.4 C623.8,172.2 624.7,172.0 626.0,171.8 C627.3,171.6 629.3,171.5 631.0,171.4 C632.7,171.3 634.5,171.1 636.0,171.2 C637.5,171.3 638.8,171.5 639.7,171.8 C640.6,172.1 641.0,172.5 641.5,172.8 C642.0,173.1 641.6,173.3 642.8,173.4 C643.9,173.5 647.1,173.5 648.4,173.4 C649.6,173.3 649.7,172.8 650.3,172.6 C650.9,172.4 650.7,172.1 652.0,172.0 C653.3,171.9 655.7,171.8 658.0,171.8 C660.3,171.8 663.8,171.7 665.8,171.8 C667.8,171.9 668.6,172.0 670.0,172.2 C671.4,172.4 673.2,172.8 674.4,172.8 C675.6,172.8 676.7,172.5 677.2,172.4" fill="none" stroke="#222" stroke-width="0.9" stroke-linejoin="round"/>
</g>
<path d="M408.3,5.2V174.0H677.8000000000001 M408.3,174.0v4.3 M453.1,174.0v4.3 M497.9,174.0v4.3 M542.8,174.0v4.3 M587.6,174.0v4.3 M632.4,174.0v4.3 M677.2,174.0v4.3 M417.3,174.0v3.1 M426.2,174.0v3.1 M435.2,174.0v3.1 M444.2,174.0v3.1 M462.1,174.0v3.1 M471.0,174.0v3.1 M480.0,174.0v3.1 M489.0,174.0v3.1 M506.9,174.0v3.1 M515.9,174.0v3.1 M524.8,174.0v3.1 M533.8,174.0v3.1 M551.7,174.0v3.1 M560.7,174.0v3.1 M569.6,174.0v3.1 M578.6,174.0v3.1 M596.5,174.0v3.1 M605.5,174.0v3.1 M614.5,174.0v3.1 M623.4,174.0v3.1 M641.3,174.0v3.1 M650.3,174.0v3.1 M659.3,174.0v3.1 M668.2,174.0v3.1 M408.3,5.7h-4.4 M408.3,22.5h-4.4 M408.3,39.4h-4.4 M408.3,56.2h-4.4 M408.3,73.0h-4.4 M408.3,89.9h-4.4 M408.3,106.7h-4.4 M408.3,123.5h-4.4 M408.3,140.3h-4.4 M408.3,157.2h-4.4 M408.3,174.0h-4.4 M408.3,14.1h-3.1 M408.3,30.9h-3.1 M408.3,47.8h-3.1 M408.3,64.6h-3.1 M408.3,81.4h-3.1 M408.3,98.3h-3.1 M408.3,115.1h-3.1 M408.3,131.9h-3.1 M408.3,148.8h-3.1 M408.3,165.6h-3.1" stroke="#111" stroke-width="1.25" fill="none"/>
<text class="b" x="379.6" y="9.7" font-size="12.7" textLength="13.3" lengthAdjust="spacingAndGlyphs">60</text>
<text class="b" x="379.6" y="26.5" font-size="12.7" textLength="13.3" lengthAdjust="spacingAndGlyphs">50</text>
<text class="b" x="379.6" y="43.4" font-size="12.7" textLength="13.3" lengthAdjust="spacingAndGlyphs">40</text>
<text class="b" x="379.6" y="60.2" font-size="12.7" textLength="13.3" lengthAdjust="spacingAndGlyphs">30</text>
<text class="b" x="379.6" y="77.0" font-size="12.7" textLength="13.3" lengthAdjust="spacingAndGlyphs">20</text>
<text class="b" x="379.6" y="93.9" font-size="12.7" textLength="13.3" lengthAdjust="spacingAndGlyphs">10</text>
<text class="b" x="386.0" y="110.7" font-size="12.7" textLength="6.9" lengthAdjust="spacingAndGlyphs">0</text>
<text class="b" x="375.6" y="127.5" font-size="12.7" textLength="17.3" lengthAdjust="spacingAndGlyphs">-10</text>
<text class="b" x="375.6" y="144.3" font-size="12.7" textLength="17.3" lengthAdjust="spacingAndGlyphs">-20</text>
<text class="b" x="375.6" y="161.2" font-size="12.7" textLength="17.3" lengthAdjust="spacingAndGlyphs">-30</text>
<text class="b" x="375.6" y="178.0" font-size="12.7" textLength="17.3" lengthAdjust="spacingAndGlyphs">-40</text>
<text class="b" x="396.8" y="194.9" font-size="12.7" textLength="20.6" lengthAdjust="spacingAndGlyphs">-0.1</text>
<text class="b" x="443.5" y="194.9" font-size="12.7" textLength="16.8" lengthAdjust="spacingAndGlyphs">0.0</text>
<text class="b" x="488.3" y="194.9" font-size="12.7" textLength="16.8" lengthAdjust="spacingAndGlyphs">0.1</text>
<text class="b" x="533.1" y="194.9" font-size="12.7" textLength="16.8" lengthAdjust="spacingAndGlyphs">0.2</text>
<text class="b" x="577.9" y="194.9" font-size="12.7" textLength="16.8" lengthAdjust="spacingAndGlyphs">0.3</text>
<text class="b" x="622.7" y="194.9" font-size="12.7" textLength="16.8" lengthAdjust="spacingAndGlyphs">0.4</text>
<text class="b" x="667.5" y="194.9" font-size="12.7" textLength="16.8" lengthAdjust="spacingAndGlyphs">0.5</text>
<text class="b" x="508.3" y="211.7" font-size="13.6" textLength="63.9" lengthAdjust="spacingAndGlyphs">Time (sec)</text>
<text class="b" transform="translate(365.4,158.0) rotate(-90)" font-size="13.5" textLength="137" lengthAdjust="spacingAndGlyphs">Displacement (mm)</text>
<rect x="575.5" y="6.6" width="98.0" height="90.60000000000001" fill="#fff" stroke="#a6a6a6" stroke-width="1"/>
<path d="M578,12.8H590.6" stroke="#3366F5" stroke-width="1.0" stroke-opacity="0.9"/>
<text class="b" x="591.6" y="15.9" font-size="8.8" textLength="74.6" lengthAdjust="spacingAndGlyphs">CASE 04_3.5kJ (#2)</text>
<path d="M578,25.7H590.6" stroke="#F52A2A" stroke-width="1.0" stroke-opacity="0.9"/>
<text class="b" x="591.6" y="28.8" font-size="8.8" textLength="74.6" lengthAdjust="spacingAndGlyphs">CASE 05_7.0kJ (#2)</text>
<path d="M578,38.7H590.6" stroke="#22AA55" stroke-width="1.0" stroke-opacity="0.9"/>
<text class="b" x="591.6" y="41.8" font-size="8.8" textLength="79.9" lengthAdjust="spacingAndGlyphs">CASE 06_10.5kJ (#2)</text>
<path d="M578,51.6H590.6" stroke="#3366F5" stroke-width="1.0" stroke-dasharray="2.1 1.4" stroke-opacity="0.8"/>
<text class="b" x="591.6" y="54.7" font-size="8.8" textLength="79.9" lengthAdjust="spacingAndGlyphs">CASE 07_14.0kJ (#2)</text>
<path d="M578,64.5H590.6" stroke="#F52A2A" stroke-width="1.0" stroke-dasharray="2.1 1.4" stroke-opacity="0.8"/>
<text class="b" x="591.6" y="67.6" font-size="8.8" textLength="79.9" lengthAdjust="spacingAndGlyphs">CASE 08_17.5kJ (#2)</text>
<path d="M578,77.5H590.6" stroke="#35c070" stroke-width="1.0" stroke-dasharray="2.1 1.4" stroke-opacity="0.8"/>
<text class="b" x="591.6" y="80.5" font-size="8.8" textLength="79.9" lengthAdjust="spacingAndGlyphs">CASE 09_21.0kJ (#2)</text>
<path d="M578,90.4H590.6" stroke="#666" stroke-width="1.0" stroke-opacity="0.9"/>
<text class="b" x="591.6" y="93.5" font-size="8.8" textLength="61.4" lengthAdjust="spacingAndGlyphs">Final Displ. (#2)</text>
<text class="s" x="17.7" y="260.6" font-size="17.5" textLength="300.3" lengthAdjust="spacingAndGlyphs">(a) Impact force of the DCP frame center</text>
<text class="s" x="394.0" y="260.6" font-size="17.5" textLength="253.5" lengthAdjust="spacingAndGlyphs">(b) Displacement of the mass head</text>
</svg></body></html>
